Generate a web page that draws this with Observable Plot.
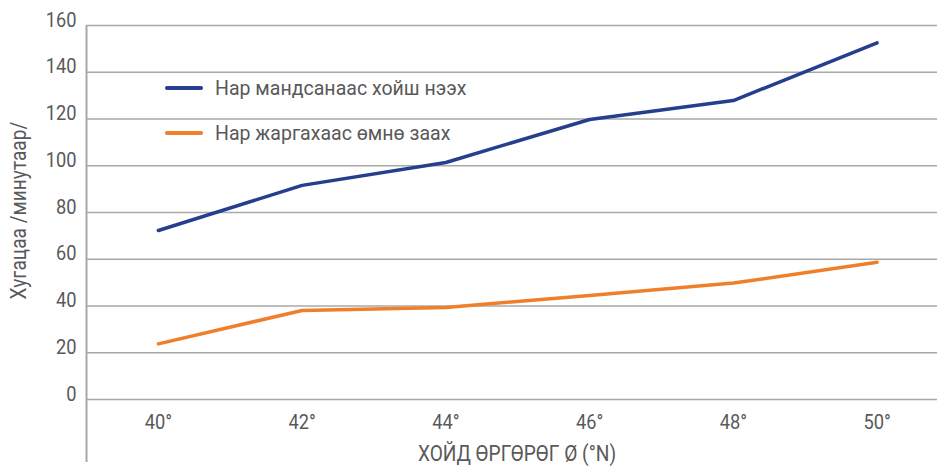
<!DOCTYPE html>
<html>
<head>
<meta charset="utf-8">
<script src="https://cdn.jsdelivr.net/npm/d3@7"></script>
<script src="https://cdn.jsdelivr.net/npm/@observablehq/plot@0.6"></script>
<style>
  html, body { margin: 0; padding: 0; background: #fff; }
  #chart { position: relative; width: 937px; height: 466px; font-family: Roboto, sans-serif; }
  #chart svg { display: block; }
  .legend { position: absolute; left: 165px; height: 24px; font-size: 21px; color: #595959; display: flex; align-items: center; white-space: nowrap; }
  .legend .swatch { width: 38px; height: 3.5px; border-radius: 2px; margin-right: 12px; flex: none; }
  .legend .name { display: inline-block; transform: scaleX(0.93); transform-origin: left center; }
</style>
</head>
<body>
<div id="chart"></div>
<script>
// Latitude (°N) of each observation point
const latitudes = [40, 42, 44, 46, 48, 50];
// Duration in minutes
const afterSunrise = [72.3, 91.6, 101.4, 119.8, 127.9, 152.6];
const beforeSunset = [23.8, 38.1, 39.4, 44.5, 49.8, 58.7];

const seriesNames = ["Нар мандсанаас хойш нээх", "Нар жаргахаас өмнө заах"];
const seriesColors = ["#253f8e", "#f07f2c"];
const yTicks = [0, 20, 40, 60, 80, 100, 120, 140, 160];
const xTicks = [40, 42, 44, 46, 48, 50];
const xTitle = "ХОЙД ӨРГӨРӨГ Ø (°N)";
const yTitle = "Хугацаа /минутаар/";

const rows = [
  ...latitudes.map((lat, i) => ({lat, value: afterSunrise[i], series: seriesNames[0]})),
  ...latitudes.map((lat, i) => ({lat, value: beforeSunset[i], series: seriesNames[1]}))
];

const textColor = "#595959";
const gridColor = "#a8a8a8";
const condense = 0.87; // narrow the glyphs for a condensed look

const chart = Plot.plot({
  width: 937,
  height: 466,
  marginLeft: 86,
  marginRight: 0,
  marginTop: 25,
  marginBottom: 67,
  style: {fontFamily: "Roboto, sans-serif", color: textColor, background: "#fff"},
  x: {domain: [39, 50.84], axis: null},
  y: {domain: [0, 160], axis: null},
  color: {domain: seriesNames, range: seriesColors},
  marks: [
    Plot.ruleY(yTicks, {stroke: gridColor, strokeWidth: 1.5}),
    Plot.ruleX([39], {y1: -27, y2: 160, stroke: gridColor, strokeWidth: 2}),
    Plot.axisY(yTicks, {tickSize: 0, tickPadding: 10, dy: -5.5, fontSize: 21, fill: textColor, label: null}),
    Plot.axisX(xTicks, {tickSize: 0, tickPadding: 15, fontSize: 21, fill: textColor, tickFormat: d => d + "°", label: null}),
    Plot.line(rows, {x: "lat", y: "value", stroke: "series", z: "series", strokeWidth: 3.5, strokeLinecap: "round", curve: "linear"}),
    Plot.text([xTitle], {frameAnchor: "bottom", textAnchor: "middle", dx: 5, dy: 54, fontSize: 22, fill: textColor, lineAnchor: "middle"}),
    Plot.text([yTitle], {frameAnchor: "left", textAnchor: "middle", dx: -68, dy: -2, rotate: -90, fontSize: 22, fill: textColor, lineAnchor: "middle"})
  ]
});

// Condense every label around its own anchor point
chart.querySelectorAll("text").forEach(t => {
  const tr = t.getAttribute("transform") || "";
  const x = parseFloat(t.getAttribute("x")) || 0;
  t.setAttribute("transform", `${tr} translate(${x},0) scale(${condense},1) translate(${-x},0)`.trim());
});

const root = document.getElementById("chart");
root.appendChild(chart);

// Legend entries placed over the plot area
const legendCenters = [88, 133];
seriesNames.forEach((name, i) => {
  const item = document.createElement("div");
  item.className = "legend";
  item.style.top = (legendCenters[i] - 12) + "px";
  const sw = document.createElement("span");
  sw.className = "swatch";
  sw.style.background = seriesColors[i];
  const label = document.createElement("span");
  label.className = "name";
  label.textContent = name;
  item.appendChild(sw);
  item.appendChild(label);
  root.appendChild(item);
});
</script>
</body>
</html>
